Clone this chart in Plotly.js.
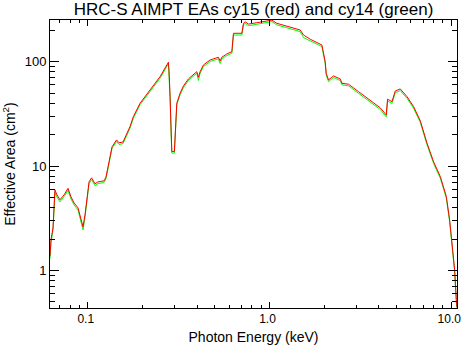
<!DOCTYPE html>
<html>
<head>
<meta charset="utf-8">
<script src="https://cdn.plot.ly/plotly-3.0.1.min.js"></script>
<style>html,body{margin:0;padding:0;background:#fff}#chart{width:462px;height:345px}</style>
</head>
<body>
<div id="chart"></div>
<script>
// Photon energy (keV)
var energy = [0.0620,0.0628,0.0644,0.0660,0.0677,0.0704,0.0741,0.0779,0.0809,0.0841,0.0884,0.0918,0.0942,0.0966,0.0991,0.1017,0.1050,0.1097,0.1139,0.1230,0.1261,0.1293,0.1327,0.1361,0.1441,0.1487,0.1564,0.1635,0.1709,0.1783,0.1941,0.2203,0.2501,0.2779,0.2803,0.2839,0.2875,0.2901,0.2998,0.3025,0.3091,0.3223,0.3361,0.3581,0.3983,0.4064,0.4153,0.4331,0.4716,0.5237,0.5351,0.5468,0.5826,0.6209,0.6336,0.7047,0.7192,0.7351,0.7664,0.8524,0.9676,1.031,1.098,1.247,1.476,1.539,1.675,1.943,2.026,2.052,2.113,2.251,2.451,2.504,2.723,3.091,3.585,4.071,4.391,4.464,4.721,4.922,5.245,5.709,6.207,6.759,7.358,8.000,8.710,9.398,9.799,10.01,10.23,10.44,10.67,10.74];
// Effective area cy15 (red), cm^2
var eaCy15 = [1.38,1.97,2.56,5.92,5.30,4.75,5.30,6.12,5.07,4.44,3.98,3.06,2.62,3.41,4.75,7.06,7.71,6.76,7.06,7.22,7.88,10.04,12.8,15.3,17.8,16.7,17.0,19.9,23.9,29.8,40.0,53.6,71.9,98.7,80.2,46.3,21.4,13.8,13.8,19.2,40.0,49.9,58.5,68.3,80.2,70.9,80.2,93.0,103.8,110.2,101.6,110.2,118.5,124.6,187,187,233,241,229,236,245,250,233,220,201,180,164,144.5,100,77.4,66.8,73.0,68.3,62.1,60.8,51.6,43.0,36.1,30.9,43.7,41.4,52.4,54.8,46.3,37.1,27.1,16.6,10.97,7.93,5.11,3.06,2.12,1.47,1.02,0.524,0.45];
// Effective area cy14 (green), cm^2
var eaCy14 = [1.30,1.85,2.45,5.60,5.05,4.55,5.10,5.85,4.85,4.25,3.80,2.90,2.45,3.25,4.55,6.80,7.40,6.50,6.80,6.95,7.60,9.70,12.3,14.8,17.2,16.1,16.4,19.2,23.1,28.8,38.7,51.8,69.5,95.5,77.5,44.8,20.7,13.3,13.3,18.5,38.6,48.2,56.5,66.0,77.4,66.0,77.4,89.8,100.3,106.4,96.0,106.4,114.5,120.3,180,180,225,233,221,228,237,242,225,212,194,170,158,139.5,96.5,74.5,64.3,70.5,66.0,60.0,58.7,49.8,41.5,34.8,29.6,42.0,39.8,50.5,52.8,44.7,35.8,26.2,16.0,10.6,7.65,4.93,2.95,2.05,1.42,0.98,0.50,0.43];

var xTickVals = [0.1, 1, 10];
var xTickText = ['0.1', '1.0', '10.0'];
var xMinorVals = [0.07,0.08,0.09,0.2,0.3,0.4,0.5,0.6,0.7,0.8,0.9,2,3,4,5,6,7,8,9];
var yTickVals = [1, 10, 100];
var yTickText = ['1', '10', '100'];
var yMinorVals = [0.5,0.6,0.7,0.8,0.9,2,3,4,5,6,7,8,9,20,30,40,50,60,70,80,90,200];

var font = 'Liberation Sans, Arial, sans-serif';

var traces = [
  {x: energy, y: eaCy14, type: 'scatter', mode: 'lines', line: {color: '#00ff00', width: 1}, hoverinfo: 'skip'},
  {x: energy, y: eaCy15, type: 'scatter', mode: 'lines', line: {color: '#ff0000', width: 1}, hoverinfo: 'skip'}
];

var layout = {
  width: 462, height: 345,
  margin: {l: 50, r: 5, t: 20, b: 37, pad: 0},
  paper_bgcolor: '#fff', plot_bgcolor: '#fff',
  showlegend: false,
  font: {family: font, color: '#000', size: 13},
  title: {text: 'HRC-S AIMPT EAs cy15 (red) and cy14 (green)', font: {family: font, size: 17, color: '#000'},
          x: 0.5, xref: 'paper', y: 0.974, yref: 'container', yanchor: 'middle'},
  xaxis: {
    type: 'log', range: [Math.log10(0.062), Math.log10(10.76)],
    showline: true, linecolor: '#000', linewidth: 1, mirror: 'ticks',
    showgrid: false, zeroline: false,
    ticks: 'inside', ticklen: 6, tickcolor: '#000', tickwidth: 1,
    tickmode: 'array', tickvals: xTickVals, ticktext: xTickText,
    ticklabeloverflow: 'allow', ticklabelshift: -2,
    tickfont: {family: font, size: 12, color: '#000'},
    minor: {ticks: 'inside', ticklen: 3, tickcolor: '#000', tickwidth: 1, tickmode: 'array', tickvals: xMinorVals, showgrid: false},
    title: {text: 'Photon Energy (keV)', font: {family: font, size: 14, color: '#000'}, standoff: 6}
  },
  yaxis: {
    type: 'log', range: [Math.log10(0.437), Math.log10(250.6)],
    showline: true, linecolor: '#000', linewidth: 1, mirror: 'ticks',
    showgrid: false, zeroline: false,
    ticks: 'inside', ticklen: 9, tickcolor: '#000', tickwidth: 1,
    tickmode: 'array', tickvals: yTickVals, ticktext: yTickText,
    ticklabeloverflow: 'allow',
    tickfont: {family: font, size: 13, color: '#000'},
    minor: {ticks: 'inside', ticklen: 5, tickcolor: '#000', tickwidth: 1, tickmode: 'array', tickvals: yMinorVals, showgrid: false},
    title: {text: 'Effective Area (cm<sup>2</sup>)', font: {family: font, size: 14, color: '#000'}, standoff: 6}
  }
};

Plotly.newPlot('chart', traces, layout, {staticPlot: true, displayModeBar: false});
</script>
</body>
</html>
